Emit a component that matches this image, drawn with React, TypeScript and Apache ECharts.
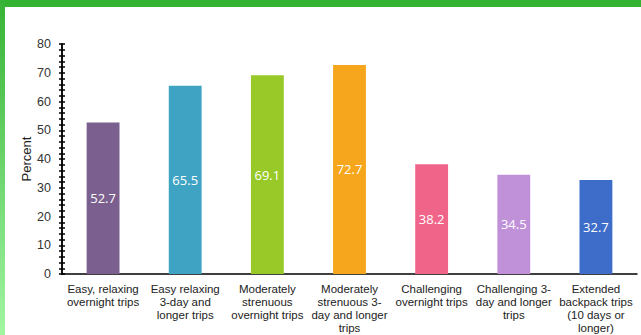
import React, { useEffect, useRef } from "react";
import * as echarts from "echarts";

const categories = [
  "Easy, relaxing\novernight trips",
  "Easy relaxing\n3-day and\nlonger trips",
  "Moderately\nstrenuous\novernight trips",
  "Moderately\nstrenuous 3-\nday and longer\ntrips",
  "Challenging\novernight trips",
  "Challenging 3-\nday and longer\ntrips",
  "Extended\nbackpack trips\n(10 days or\nlonger)",
];
const values = [52.7, 65.5, 69.1, 72.7, 38.2, 34.5, 32.7];
const colors = ["#7b5f8f", "#3fa4c4", "#98c928", "#f5a61c", "#f1648a", "#c091d9", "#3d6dc9"];
const yMin = 0;
const yMax = 80;
const yInterval = 10;

export default function App() {
  const ref = useRef<HTMLDivElement>(null);
  useEffect(() => {
    if (!ref.current) return;
    const chart = echarts.init(ref.current, null, { renderer: "svg" });
    const baseY = {
      type: "value" as const,
      min: yMin,
      max: yMax,
      interval: yInterval,
      position: "left" as const,
      splitLine: { show: false },
      axisLine: { show: true, lineStyle: { color: "#000", width: 1.5 } },
    };
    chart.setOption({
      animation: false,
      grid: { left: 62, right: 4, top: 44, bottom: 61 },
      graphic: [
        { type: "rect", left: 0, top: 0, shape: { width: 641, height: 7 }, style: { fill: "#32b432" }, z: 100 },
        {
          type: "rect",
          left: 0,
          top: 0,
          shape: { width: 5, height: 335 },
          style: {
            fill: new echarts.graphic.LinearGradient(0, 0, 0, 1, [
              { offset: 0, color: "#36b336" },
              { offset: 1, color: "#a2f6a2" },
            ]),
          },
          z: 100,
        },
      ],
      xAxis: {
        type: "category",
        data: categories,
        axisLine: { lineStyle: { color: "#000", width: 1.5 } },
        axisTick: { show: false },
        axisLabel: {
          interval: 0,
          fontFamily: "Liberation Sans",
          fontSize: 11.5,
          lineHeight: 13,
          color: "#222",
          margin: 8,
        },
      },
      yAxis: [
        {
          ...baseY,
          name: "Percent",
          nameLocation: "middle",
          nameGap: 29,
          nameMoveOverlap: false,
          nameTextStyle: { fontFamily: "Liberation Sans", fontSize: 13, color: "#222" },
          axisTick: { show: true, length: 3, lineStyle: { color: "#000", width: 1.5 } },
          minorTick: { show: true, splitNumber: 5, length: 3, lineStyle: { color: "#000", width: 1.5 } },
          axisLabel: { fontFamily: "Liberation Sans", fontSize: 12.5, color: "#333", margin: 11 },
        },
        {
          ...baseY,
          axisTick: { show: true, inside: true, length: 3, lineStyle: { color: "#000", width: 1.5 } },
          minorTick: { show: true, splitNumber: 5, length: 3, lineStyle: { color: "#000", width: 1.5 } },
          axisLabel: { show: false },
        },
      ],
      series: [
        {
          type: "bar",
          yAxisIndex: 0,
          barWidth: "40%",
          data: values.map((v, i) => ({ value: v, itemStyle: { color: colors[i] } })),
          label: {
            show: true,
            position: "inside",
            color: "#fff",
            fontFamily: "Open Sans",
            fontSize: 13,
          },
        },
      ],
    });
    return () => chart.dispose();
  }, []);
  return (
    <div
      ref={ref}
      style={{ position: "fixed", left: 0, top: 0, width: 641, height: 335, background: "#fff" }}
    />
  );
}
